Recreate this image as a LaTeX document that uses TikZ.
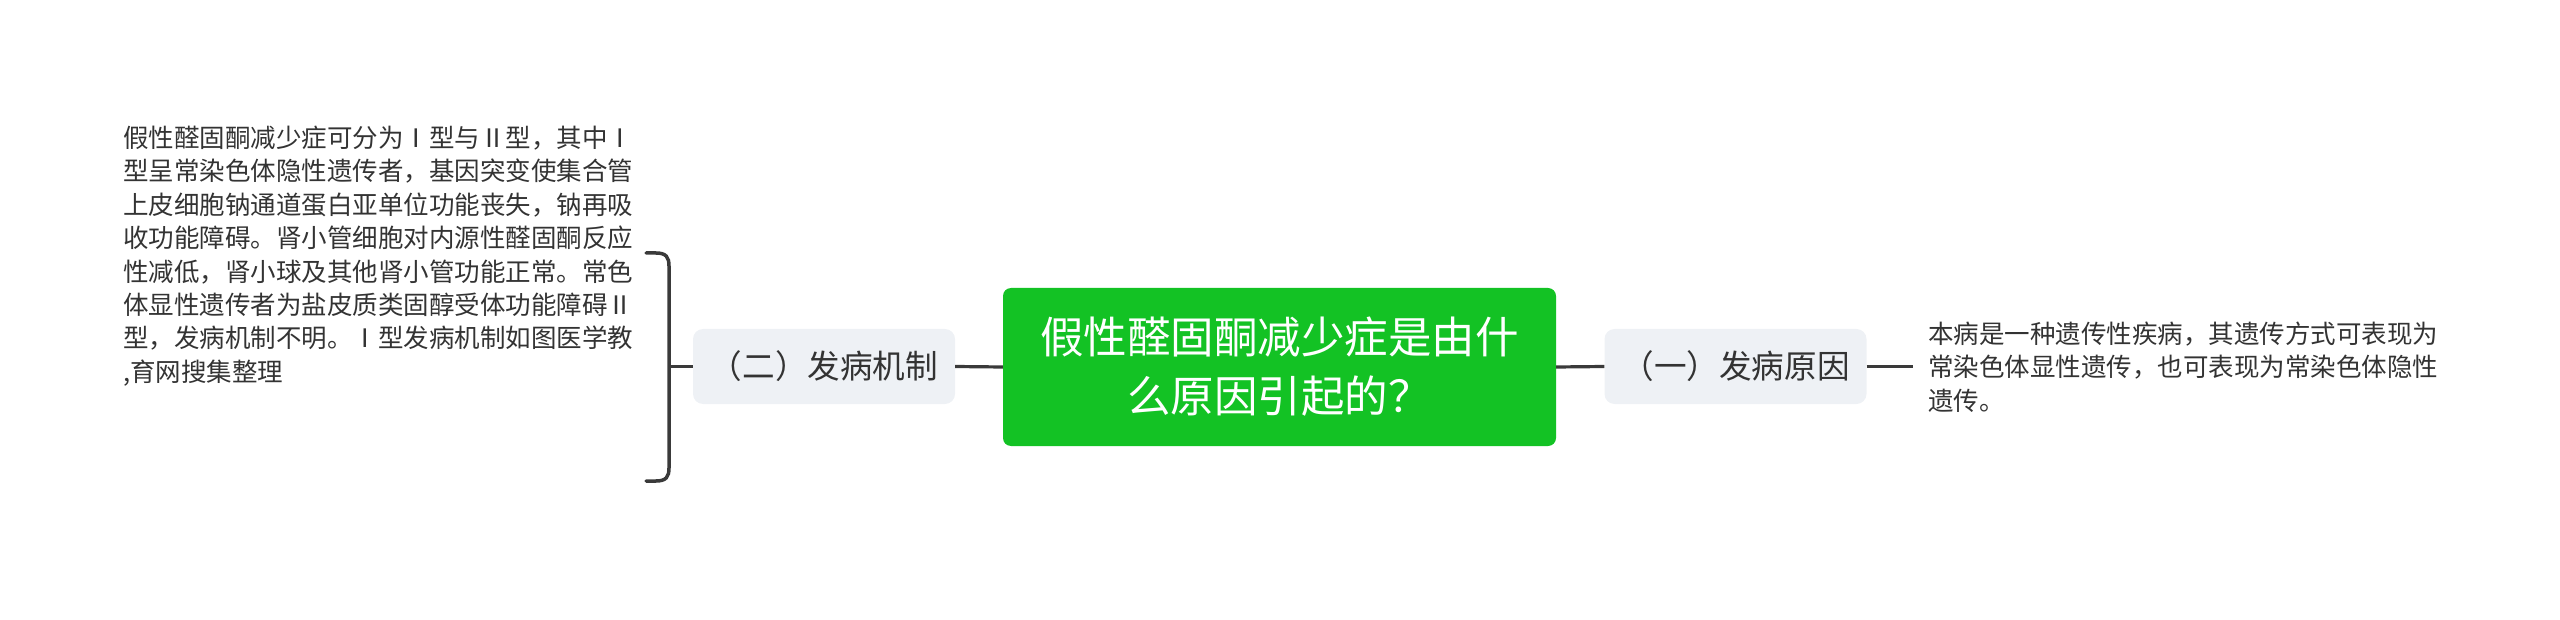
\documentclass[tikz,border=0pt]{standalone}
\usepackage{fontspec}
\setmainfont{Noto Sans CJK SC}
\definecolor{maingreen}{HTML}{13C224}
\definecolor{subgray}{HTML}{EEF1F5}
\definecolor{linegray}{HTML}{3A3A3A}
\definecolor{textgray}{HTML}{333333}
\tikzset{
  rootbox/.style={rectangle, rounded corners=8pt, fill=maingreen, text=white, align=center,
    minimum width=553pt, minimum height=158pt, inner sep=0pt,
    font=\fontsize{43.5pt}{59pt}\selectfont},
  subbox/.style={rectangle, rounded corners=10pt, fill=subgray, text=textgray, align=center,
    minimum width=262pt, minimum height=75pt, inner sep=0pt,
    font=\fontsize{32.6pt}{40pt}\selectfont},
  leaftext/.style={align=left, text=textgray, inner sep=0pt, anchor=west,
    font=\fontsize{25.5pt}{33.4pt}\selectfont},
  conn/.style={draw=linegray, line width=3.2pt},
  bracketline/.style={draw=linegray, line width=3.5pt, line cap=round}
}
\begin{document}
\begin{tikzpicture}[x=1pt,y=-1pt]
\useasboundingbox (0,0) rectangle (2560,620);
\node[rootbox] (root) at (1279.5,367) {假性醛固酮减少症是由什\\么原因引起的？};
\node[subbox] (left) at (824,366.5) {（二）发病机制};
\node[subbox] (right) at (1735.5,366.5) {（一）发病原因};
\node[leaftext] (rtext) at (1928,367) {本病是一种遗传性疾病，其遗传方式可表现为\\常染色体显性遗传，也可表现为常染色体隐性\\遗传。};
\node[leaftext] (ltext) at (123,256) {假性醛固酮减少症可分为Ⅰ型与Ⅱ型，其中Ⅰ\\型呈常染色体隐性遗传者，基因突变使集合管\\上皮细胞钠通道蛋白亚单位功能丧失，钠再吸\\收功能障碍。肾小管细胞对内源性醛固酮反应\\性减低，肾小球及其他肾小管功能正常。常色\\体显性遗传者为盐皮质类固醇受体功能障碍Ⅱ\\型，发病机制不明。Ⅰ型发病机制如图医学教\\,育网搜集整理};
\draw[conn] (root.west) -- (left.east);
\draw[conn] (root.east) -- (right.west);
\draw[conn, shorten >=15pt] (right.east) -- (rtext.west |- right.east);
\coordinate (bmid) at (669,366.5);
\coordinate (btop) at (646,253);
\coordinate (bbot) at (646,481);
\draw[conn] (left.west) -- (bmid);
\draw[bracketline] (btop) -- (656,253) .. controls (666,253) and (669,257) .. (669,266)
  -- (669,468) .. controls (669,477) and (666,481) .. (656,481) -- (bbot);
\end{tikzpicture}
\end{document}
